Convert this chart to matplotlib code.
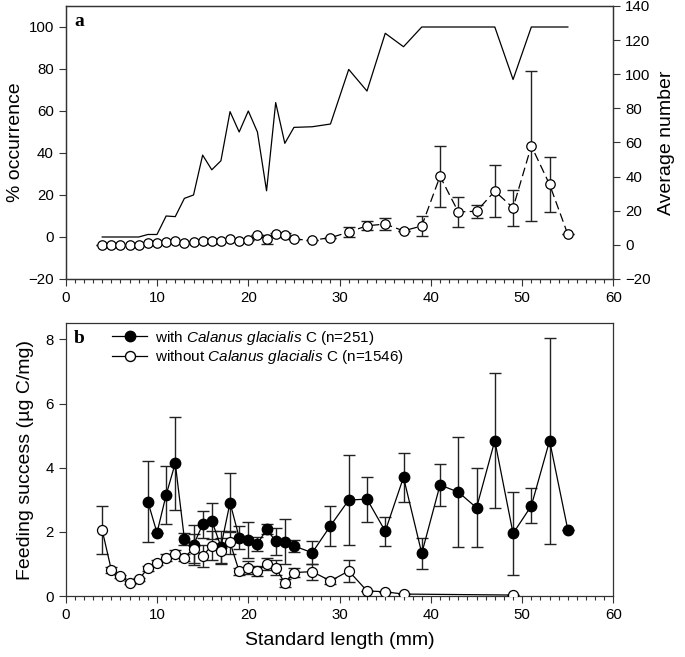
import matplotlib
matplotlib.use("Agg")
import matplotlib.pyplot as plt
from matplotlib.ticker import MultipleLocator
from matplotlib.lines import Line2D

plt.rcParams['font.family'] = ['Liberation Sans', 'DejaVu Sans']
plt.rcParams['mathtext.fontset'] = 'custom'
plt.rcParams['mathtext.it'] = 'Liberation Sans:italic'
plt.rcParams['mathtext.rm'] = 'Liberation Sans'

# ---------------- Panel a data ----------------
length_a = [4, 5, 6, 7, 8, 9, 10, 11, 12, 13, 14, 15, 16, 17, 18, 19, 20, 21, 22, 23, 24, 25,
            27, 29, 31, 33, 35, 37, 39, 41, 43, 45, 47, 49, 51, 53, 55]
occurrence = [0, 0, 0, 0, 0, 1.2, 1.2, 10, 9.7, 18.4, 20, 39, 32, 36.3, 59.7, 50, 60, 50, 22, 64,
              44.6, 52.2, 52.5, 53.8, 79.8, 69.5, 97, 90.6, 100, 100, 100, 100, 100, 75, 100, 100, 100]
avg_number = [0, 0, 0, 0, 0, 1.2, 1.2, 1.6, 2.0, 1.2, 1.6, 2.4, 2.4, 2.4, 3.5, 2.4, 2.75, 5.7, 3.3,
              6.1, 5.6, 3.3, 2.75, 4.2, 7.5, 11.2, 12.2, 8.2, 11.1, 40.2, 19.3, 19.7, 31.5, 21.7,
              58, 35.4, 6.1]
avg_err = [0, 0, 0, 0, 0, 0, 0, 0, 0, 0, 0, 0, 0, 0, 0, 0, 0, 0, 2.5, 1.0, 1.2, 0, 0, 0, 3.0,
           2.5, 3.4, 0, 5.8, 17.8, 9.0, 3.7, 15.2, 10.5, 43.8, 16.0, 0]

# ---------------- Panel b data ----------------
with_x = [9, 10, 11, 12, 13, 14, 15, 16, 17, 18, 19, 20, 21, 22, 23, 24, 25, 27, 29, 31, 33, 35,
          37, 39, 41, 43, 45, 47, 49, 51, 53, 55]
with_y = [2.94, 1.97, 3.15, 4.14, 1.78, 1.59, 2.23, 2.35, 1.54, 2.91, 1.82, 1.74, 1.62, 2.08, 1.71,
          1.69, 1.56, 1.35, 2.19, 2.99, 3.02, 2.02, 3.70, 1.33, 3.46, 3.24, 2.75, 4.84, 1.95, 2.81,
          4.84, 2.06]
with_err = [1.27, 0, 0.9, 1.45, 0.18, 0.62, 0.43, 0.56, 0.5, 0.93, 0.35, 0.56, 0.23, 0.15, 0.42,
            0.7, 0.18, 0.36, 0.62, 1.41, 0.7, 0.45, 0.76, 0.48, 0.65, 1.72, 1.23, 2.11, 1.3, 0.55,
            3.21, 0]
without_x = [4, 5, 6, 7, 8, 9, 10, 11, 12, 13, 14, 15, 16, 17, 18, 19, 20, 21, 22, 23, 24, 25,
             27, 29, 31, 33, 35, 37, 49]
without_y = [2.05, 0.81, 0.61, 0.42, 0.52, 0.86, 1.04, 1.2, 1.32, 1.2, 1.48, 1.25, 1.57, 1.4, 1.67,
             0.77, 0.88, 0.78, 1.0, 0.88, 0.4, 0.73, 0.76, 0.47, 0.78, 0.16, 0.13, 0.06, 0.03]
without_err = [0.75, 0.1, 0.06, 0.05, 0.05, 0.08, 0.08, 0.1, 0.1, 0.12, 0.45, 0.35, 0.45, 0.4,
               0.35, 0.1, 0.2, 0.15, 0.2, 0.23, 0.12, 0.15, 0.25, 0.1, 0.33, 0, 0, 0, 0]

W, H = 685, 657
fig = plt.figure(figsize=(W / 100, H / 100), dpi=100)

def rect(l, t, r, b):
    return [l / W, 1 - b / H, (r - l) / W, (b - t) / H]

TICK = 10.8
LAB = 14

def style_x(ax):
    ax.set_xlim(0, 60)
    ax.xaxis.set_major_locator(MultipleLocator(10))
    ax.xaxis.set_minor_locator(MultipleLocator(1))
    ax.tick_params(axis='both', which='major', direction='out', length=5, width=0.8,
                   labelsize=TICK, colors='#333333', labelcolor='black')
    ax.tick_params(axis='x', which='minor', direction='out', length=3, width=0.8, colors='#333333')
    for s in ax.spines.values():
        s.set_linewidth(0.9)
        s.set_color('#333333')

# ---- Panel a ----
axa = fig.add_axes(rect(65.7, 6, 613.5, 279))
axa.plot(length_a, occurrence, color='black', lw=0.9, zorder=3)
axa.set_ylim(-20, 110)
axa.set_yticks([-20, 0, 20, 40, 60, 80, 100])
axa.set_ylabel('% occurrence', fontsize=LAB, labelpad=3)
style_x(axa)
axa.text(0.015, 0.975, 'a', transform=axa.transAxes, fontsize=14, fontweight='bold',
         family='Liberation Serif', va='top', ha='left')

axb2 = axa.twinx()
axb2.errorbar(length_a, avg_number, yerr=avg_err, fmt='none', ecolor='#222222', elinewidth=1.0,
              capsize=4, capthick=1.0, zorder=2)
axb2.plot(length_a, avg_number, color='black', lw=0.9, dashes=(7, 3.5), marker='o', ms=6.8,
          mfc='white', mec='black', mew=0.9, zorder=3)
axb2.set_ylim(-20, 140)
axb2.set_yticks([-20, 0, 20, 40, 60, 80, 100, 120, 140])
axb2.set_ylabel('Average number', fontsize=LAB, labelpad=5)
axb2.tick_params(axis='y', direction='out', length=5, width=0.8, labelsize=TICK,
                 colors='#333333', labelcolor='black')
for s in axb2.spines.values():
    s.set_linewidth(0.9)
    s.set_color('#333333')

# ---- Panel b ----
axb = fig.add_axes(rect(65.7, 323.3, 613.5, 596))
axb.errorbar(with_x, with_y, yerr=with_err, fmt='none', ecolor='#222222', elinewidth=1.0,
             capsize=4, capthick=1.0, zorder=2)
axb.errorbar(without_x, without_y, yerr=without_err, fmt='none', ecolor='#222222',
             elinewidth=1.0, capsize=4, capthick=1.0, zorder=2)
axb.plot(with_x, with_y, color='black', lw=0.9, marker='o', ms=7.5, mfc='black', mec='black',
         zorder=3)
axb.plot(without_x, without_y, color='black', lw=0.9, marker='o', ms=7.2, mfc='white',
         mec='black', mew=0.9, zorder=4)
axb.set_ylim(0, 8.5)
axb.set_yticks([0, 2, 4, 6, 8])
style_x(axb)
axb.set_ylabel('Feeding success (µg C/mg)', fontsize=LAB, labelpad=8)
axb.set_xlabel('Standard length (mm)', fontsize=LAB, labelpad=7)
axb.text(0.015, 0.975, 'b', transform=axb.transAxes, fontsize=14, fontweight='bold',
         family='Liberation Serif', va='top', ha='left')

h1 = Line2D([], [], color='black', lw=0.9, marker='o', ms=7.5, mfc='black', mec='black')
h2 = Line2D([], [], color='black', lw=0.9, marker='o', ms=7.2, mfc='white', mec='black')
leg = axb.legend([h1, h2],
                 [r'with $\mathit{Calanus\ glacialis}$ C (n=251)',
                  r'without $\mathit{Calanus\ glacialis}$ C (n=1546)'],
                 loc='upper left', bbox_to_anchor=(0.065, 1.02), frameon=False,
                 fontsize=11, handlelength=2.3, handletextpad=0.5, labelspacing=0.1,
                 borderaxespad=0.3)

fig.savefig('out.png', dpi=100)
